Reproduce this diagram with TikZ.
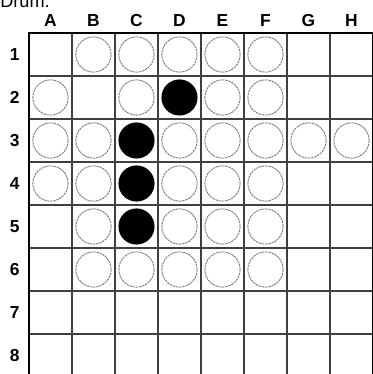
\documentclass[tikz,border=0pt]{standalone}
\usepackage{fontspec}
\setmainfont{Liberation Sans}
\begin{document}
\begin{tikzpicture}[x=1cm,y=1cm,
    wit/.style={circle, draw=gray!90!black, dash pattern=on 1.6pt off 0.5pt, line width=0.55pt, minimum size=0.82cm, inner sep=0pt},
    zwart/.style={circle, fill=black, minimum size=0.84cm, inner sep=0pt},
    lbl/.style={font=\bfseries\fontsize{11.5}{13}\selectfont, inner sep=0pt}]
    \useasboundingbox (-0.674,0.07) rectangle (7.977,8.767);

    % titel, half afgesneden
    \node[anchor=base west, inner sep=0pt, font=\fontsize{12}{14}\selectfont] (titel) at (-0.674,8.60) {Drum.};

    % het bord
    \draw[gray!50!black, line width=0.7pt] (0,0) grid (8,8);
    \draw[black, line width=1.3pt] (0,0) rectangle (8,8);

    % kolommen en rijen
    \foreach \l [count=\i] in {A,B,C,D,E,F,G,H}
        \node[lbl] (kol\l) at (\i-0.5,8.28) {\l};
    \foreach \r in {1,...,8}
        \node[lbl] (rij\r) at (-0.33,8.5-\r) {\r};

    % witte stenen
    \foreach \c/\r in {2/1,3/1,4/1,5/1,6/1,
                       1/2,3/2,5/2,6/2,
                       1/3,2/3,4/3,5/3,6/3,7/3,8/3,
                       1/4,2/4,4/4,5/4,6/4,
                       2/5,4/5,5/5,6/5,
                       2/6,3/6,4/6,5/6,6/6}
        \node[wit] (s-\c-\r) at (\c-0.5,8.5-\r) {};

    % zwarte stenen
    \foreach \c/\r in {4/2,3/3,3/4,3/5}
        \node[zwart] (s-\c-\r) at (\c-0.5,8.5-\r) {};
\end{tikzpicture}
\end{document}
